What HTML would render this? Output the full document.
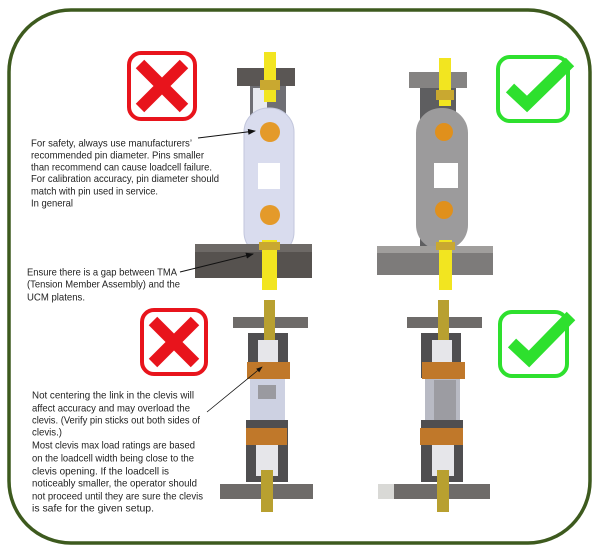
<!DOCTYPE html>
<html><head><meta charset="utf-8"><style>
html,body{margin:0;padding:0;background:#fff;}
svg{display:block;}
text{font-family:"Liberation Sans",sans-serif;font-size:10.3px;fill:#222;}
</style></head><body>
<svg width="600" height="548" viewBox="0 0 600 548" xmlns="http://www.w3.org/2000/svg">
<defs>
<marker id="ah" markerWidth="8" markerHeight="6" refX="7" refY="3" orient="auto"><path d="M0,0 L8,3 L0,6 Z" fill="#111"/></marker>
</defs>
<rect x="9" y="10" width="581" height="533" rx="62" fill="#fff" stroke="#3d5a1e" stroke-width="3.5"/>

<!-- Top-left red X -->
<rect x="129" y="53" width="66" height="66" rx="12" fill="#fff" stroke="#e8141c" stroke-width="4"/>
<path d="M140,64 L184,108 M184,64 L140,108" stroke="#e8141c" stroke-width="12"/>
<!-- Bottom-left red X -->
<rect x="142" y="310" width="64" height="64" rx="12" fill="#fff" stroke="#e8141c" stroke-width="4"/>
<path d="M153,321 L195,363 M195,321 L153,363" stroke="#e8141c" stroke-width="12"/>
<!-- Checks -->
<rect x="498" y="57" width="70" height="64" rx="12" fill="#fff" stroke="#2ee02e" stroke-width="4"/>
<path d="M510,88 L527,104 L570,62" fill="none" stroke="#2ee02e" stroke-width="12"/>
<rect x="500" y="312" width="67" height="64" rx="12" fill="#fff" stroke="#2ee02e" stroke-width="4"/>
<path d="M512,343 L529,359 L571,316" fill="none" stroke="#2ee02e" stroke-width="12"/>

<!-- Top-left assembly -->
<rect x="237" y="68" width="58" height="18" fill="#5a5654"/>
<rect x="250" y="86" width="36" height="170" fill="#6f6f74"/>
<rect x="253" y="88" width="14" height="160" fill="#e8eaf0"/>
<rect x="244" y="108" width="50" height="148" rx="24" fill="#d9dcee"/>
<rect x="244" y="108" width="50" height="148" rx="24" fill="none" stroke="#c2c6dc"/>
<rect x="258" y="163" width="22" height="26" fill="#fff"/>
<circle cx="270" cy="132" r="10" fill="#e49a2a"/>
<circle cx="270" cy="215" r="10" fill="#e49a2a"/>
<rect x="195" y="244" width="117" height="34" fill="#56524f"/>
<rect x="195" y="244" width="117" height="8" fill="#6d6966"/>
<rect x="264" y="52" width="12" height="50" fill="#f2e520"/>
<rect x="260" y="80" width="20" height="10" fill="#c9a830"/>
<rect x="262" y="240" width="15" height="50" fill="#f2e520"/>
<rect x="259" y="242" width="21" height="8" fill="#c9a830"/>

<!-- Top-right assembly -->
<rect x="409" y="72" width="58" height="16" fill="#858382"/>
<rect x="420" y="88" width="36" height="160" fill="#5e5e60"/>
<rect x="416" y="108" width="52" height="142" rx="25" fill="#9c9b9c"/>
<rect x="434" y="163" width="24" height="25" fill="#fff"/>
<circle cx="444" cy="132" r="9" fill="#e0901c"/>
<circle cx="444" cy="210" r="9" fill="#e0901c"/>
<rect x="377" y="246" width="116" height="29" fill="#7d7b7a"/>
<rect x="377" y="246" width="116" height="7" fill="#a09e9c"/>
<rect x="439" y="58" width="12" height="48" fill="#f2e520"/>
<rect x="436" y="90" width="18" height="10" fill="#c9a830"/>
<rect x="439" y="240" width="13" height="50" fill="#f2e520"/>
<rect x="436" y="242" width="19" height="8" fill="#c9a830"/>

<!-- Bottom-left assembly -->
<rect x="233" y="317" width="75" height="11" fill="#6e6b69"/>
<rect x="248" y="333" width="40" height="45" fill="#4f4e50"/>
<rect x="258" y="340" width="20" height="40" fill="#e6e6ea"/>
<rect x="250" y="375" width="35" height="55" fill="#cdd1e2"/>
<rect x="258" y="385" width="18" height="14" fill="#9a9aa0"/>
<rect x="246" y="420" width="42" height="62" fill="#4f4e50"/>
<rect x="256" y="440" width="22" height="36" fill="#e6e6ea"/>
<rect x="247" y="362" width="43" height="17" fill="#c0782a"/>
<rect x="246" y="428" width="41" height="17" fill="#c0782a"/>
<rect x="220" y="484" width="93" height="15" fill="#6e6b69"/>
<rect x="264" y="300" width="11" height="40" fill="#b8a030"/>
<rect x="261" y="470" width="12" height="42" fill="#b8a030"/>

<!-- Bottom-right assembly -->
<rect x="407" y="317" width="75" height="11" fill="#6e6b69"/>
<rect x="421" y="333" width="40" height="45" fill="#4f4e50"/>
<rect x="432" y="340" width="20" height="40" fill="#e6e6ea"/>
<rect x="425" y="375" width="35" height="55" fill="#b8bac4"/>
<rect x="434" y="380" width="22" height="50" fill="#9c9ca2"/>
<rect x="421" y="420" width="42" height="62" fill="#4f4e50"/>
<rect x="432" y="440" width="22" height="36" fill="#e6e6ea"/>
<rect x="422" y="362" width="43" height="17" fill="#c0782a"/>
<rect x="420" y="428" width="43" height="17" fill="#c0782a"/>
<rect x="378" y="484" width="44" height="15" fill="#d9d9d6"/>
<rect x="394" y="484" width="96" height="15" fill="#6e6b69"/>
<rect x="438" y="300" width="11" height="40" fill="#b8a030"/>
<rect x="437" y="470" width="12" height="42" fill="#b8a030"/>

<!-- Arrows -->
<line x1="198" y1="138" x2="255" y2="131" stroke="#111" stroke-width="1" marker-end="url(#ah)"/>
<line x1="180" y1="272" x2="253" y2="254" stroke="#111" stroke-width="1" marker-end="url(#ah)"/>
<line x1="207" y1="412" x2="262" y2="367" stroke="#111" stroke-width="0.8" marker-end="url(#ah)"/>

<!-- Text -->
<text x="31" y="146.5" textLength="161" lengthAdjust="spacingAndGlyphs">For safety, always use manufacturers’</text>
<text x="31" y="158.5" textLength="173" lengthAdjust="spacingAndGlyphs">recommended pin diameter. Pins smaller</text>
<text x="31" y="170.5" textLength="181" lengthAdjust="spacingAndGlyphs">than recommend can cause loadcell failure.</text>
<text x="31" y="182" textLength="188" lengthAdjust="spacingAndGlyphs">For calibration accuracy, pin diameter should</text>
<text x="31" y="194.5" textLength="127" lengthAdjust="spacingAndGlyphs">match with pin used in service.</text>
<text x="31" y="206.5" textLength="42" lengthAdjust="spacingAndGlyphs">In general</text>

<text x="27" y="275.5" textLength="150" lengthAdjust="spacingAndGlyphs">Ensure there is a gap between TMA</text>
<text x="27" y="287.5" textLength="153" lengthAdjust="spacingAndGlyphs">(Tension Member Assembly) and the</text>
<text x="27" y="300.5" textLength="58" lengthAdjust="spacingAndGlyphs">UCM platens.</text>

<text x="32" y="398.5" textLength="162" lengthAdjust="spacingAndGlyphs">Not centering the link in the clevis will</text>
<text x="32" y="411.5" textLength="158" lengthAdjust="spacingAndGlyphs">affect accuracy and may overload the</text>
<text x="32" y="423.5" textLength="168" lengthAdjust="spacingAndGlyphs">clevis. (Verify pin sticks out both sides of</text>
<text x="32" y="435.5" textLength="30" lengthAdjust="spacingAndGlyphs">clevis.)</text>
<text x="32" y="448.5" textLength="163" lengthAdjust="spacingAndGlyphs">Most clevis max load ratings are based</text>
<text x="32" y="461.5" textLength="162" lengthAdjust="spacingAndGlyphs">on the loadcell width being close to the</text>
<text x="32" y="474.5" textLength="137" lengthAdjust="spacingAndGlyphs">clevis opening. If the loadcell is</text>
<text x="32" y="486.5" textLength="165" lengthAdjust="spacingAndGlyphs">noticeably smaller, the operator should</text>
<text x="32" y="499.5" textLength="171" lengthAdjust="spacingAndGlyphs">not proceed until they are sure the clevis</text>
<text x="32" y="511.5" textLength="122" lengthAdjust="spacingAndGlyphs">is safe for the given setup.</text>
</svg>
</body></html>
